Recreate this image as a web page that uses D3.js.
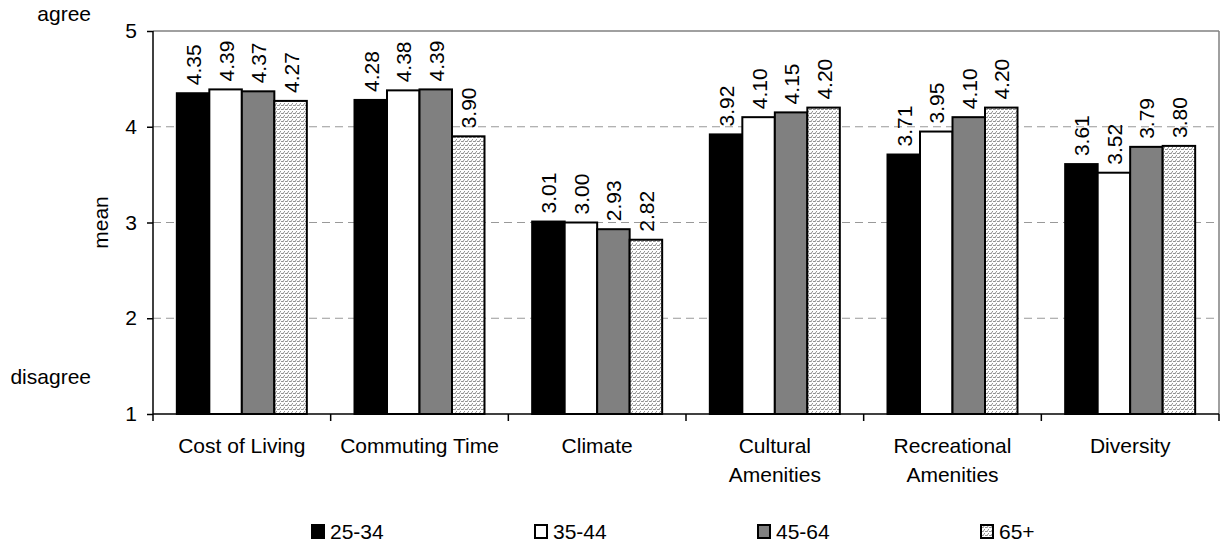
<!DOCTYPE html>
<html>
<head>
<meta charset="utf-8">
<script src="https://cdn.jsdelivr.net/npm/d3@7"></script>
<style>
  body { margin: 0; background: #fff; }
  text { font-family: "Liberation Sans", Arial, sans-serif; fill: #000; }
</style>
</head>
<body>
<div id="chart"></div>
<script>
// Data
let categories = ["Cost of Living", "Commuting Time", "Climate", "Cultural Amenities", "Recreational Amenities", "Diversity"];
let groups = ["25-34", "35-44", "45-64", "65+"];
let v25_34 = [4.35, 4.28, 3.01, 3.92, 3.71, 3.61];
let v35_44 = [4.39, 4.38, 3.00, 4.10, 3.95, 3.52];
let v45_64 = [4.37, 4.39, 2.93, 4.15, 4.10, 3.79];
let v65 = [4.27, 3.90, 2.82, 4.20, 4.20, 3.80];
let yTicks = [1, 2, 3, 4, 5];

let series = [v25_34, v35_44, v45_64, v65];

let margin = {top: 31, right: 2, bottom: 130, left: 153};
let W = 1221, H = 544;
let width = W - margin.left - margin.right;
let height = H - margin.top - margin.bottom;
let fs = 21;

let svg = d3.select("#chart").append("svg")
  .attr("width", W).attr("height", H);

// hatch pattern for 65+
let defs = svg.append("defs");
let pat = defs.append("pattern")
  .attr("id", "hatch")
  .attr("patternUnits", "userSpaceOnUse")
  .attr("width", 4).attr("height", 4);
pat.append("rect").attr("width", 4).attr("height", 4).attr("fill", "#fff");
pat.append("path")
  .attr("d", "M0,3 L1,2 L2,3 L3,1 L4,0")
  .attr("stroke", "#888").attr("stroke-width", 0.9).attr("fill", "none");

let fills = ["#000", "#fff", "#808080", "url(#hatch)"];

let g = svg.append("g")
  .attr("transform", "translate(" + margin.left + "," + margin.top + ")");

let x0 = d3.scaleBand().domain(categories).range([0, width]).paddingInner(0).paddingOuter(0);
let x1 = d3.scaleBand().domain(groups).range([0, 130]);
let groupOffset = (x0.bandwidth() - 130) / 2;
let y = d3.scaleLinear().domain([1, 5]).range([height, 0]);

// plot area border (top/right gray)
g.append("line").attr("x1", 0).attr("x2", width).attr("y1", 0).attr("y2", 0)
  .attr("stroke", "#808080").attr("stroke-width", 1.5);
g.append("line").attr("x1", width).attr("x2", width).attr("y1", 0).attr("y2", height)
  .attr("stroke", "#808080").attr("stroke-width", 1.5);

// gridlines
g.selectAll(".grid").data(yTicks.filter(t => t > 1 && t < 5)).enter()
  .append("line")
  .attr("x1", 0).attr("x2", width)
  .attr("y1", d => y(d)).attr("y2", d => y(d))
  .attr("stroke", "#999").attr("stroke-dasharray", "8,5").attr("stroke-width", 1);

// bars
let barData = [];
categories.forEach((c, i) => {
  groups.forEach((s, j) => {
    barData.push({cat: c, grp: s, j: j, value: series[j][i]});
  });
});

g.selectAll(".bar").data(barData).enter()
  .append("rect")
  .attr("x", d => x0(d.cat) + groupOffset + x1(d.grp))
  .attr("y", d => y(d.value))
  .attr("width", x1.bandwidth())
  .attr("height", d => y(1) - y(d.value))
  .attr("fill", d => fills[d.j])
  .attr("stroke", "#000").attr("stroke-width", 2);

// value labels
g.selectAll(".lbl").data(barData).enter()
  .append("text")
  .attr("transform", d => "translate(" + (x0(d.cat) + groupOffset + x1(d.grp) + x1.bandwidth() / 2 + 8) + "," + (y(d.value) - 8) + ") rotate(-90)")
  .attr("font-size", fs)
  .text(d => d.value.toFixed(2));

// y axis
let yAxis = g.append("g")
  .call(d3.axisLeft(y).tickValues(yTicks).tickFormat(d3.format("d")).tickSize(6).tickPadding(10));
yAxis.select(".domain").attr("stroke", "#000").attr("stroke-width", 1.5).attr("d", "M0,0V" + height);
yAxis.selectAll(".tick line").attr("stroke", "#000").attr("stroke-width", 1.5);
yAxis.selectAll("text").attr("font-size", fs).attr("font-family", "Liberation Sans, Arial, sans-serif");

// x axis
let xAxis = g.append("g").attr("transform", "translate(0," + height + ")");
xAxis.append("line").attr("x1", 0).attr("x2", width).attr("stroke", "#000").attr("stroke-width", 1.5);
xAxis.selectAll(".xt").data(d3.range(categories.length + 1)).enter()
  .append("line")
  .attr("x1", d => d * x0.bandwidth()).attr("x2", d => d * x0.bandwidth())
  .attr("y1", 0).attr("y2", 7)
  .attr("stroke", "#000").attr("stroke-width", 1.5);

let catLabels = {"Cultural Amenities": ["Cultural", "Amenities"], "Recreational Amenities": ["Recreational", "Amenities"]};
xAxis.selectAll(".xl").data(categories).enter()
  .append("text")
  .attr("x", d => x0(d) + x0.bandwidth() / 2)
  .attr("y", 39)
  .attr("text-anchor", "middle")
  .attr("font-size", fs)
  .each(function(d) {
    let lines = catLabels[d] || [d];
    d3.select(this).selectAll("tspan").data(lines).enter()
      .append("tspan")
      .attr("x", x0(d) + x0.bandwidth() / 2)
      .attr("dy", (l, i) => i === 0 ? 0 : 29)
      .text(l => l);
  });

// axis titles
svg.append("text").attr("x", 91).attr("y", 21).attr("text-anchor", "end").attr("font-size", fs).text("agree");
svg.append("text").attr("x", 91).attr("y", 384).attr("text-anchor", "end").attr("font-size", fs).text("disagree");
svg.append("text")
  .attr("transform", "translate(108," + (margin.top + height / 2) + ") rotate(-90)")
  .attr("text-anchor", "middle").attr("font-size", fs).text("mean");

// legend
let legend = svg.append("g").selectAll(".leg").data(groups).enter()
  .append("g")
  .attr("transform", (d, i) => "translate(" + (312 + i * 223) + ",525)");
legend.append("rect")
  .attr("x", 0).attr("y", 0).attr("width", 12).attr("height", 13)
  .attr("fill", (d, i) => fills[i]).attr("stroke", "#000").attr("stroke-width", 2);
legend.append("text")
  .attr("x", 18).attr("y", 14)
  .attr("font-size", fs)
  .text(d => d);
</script>
</body>
</html>
